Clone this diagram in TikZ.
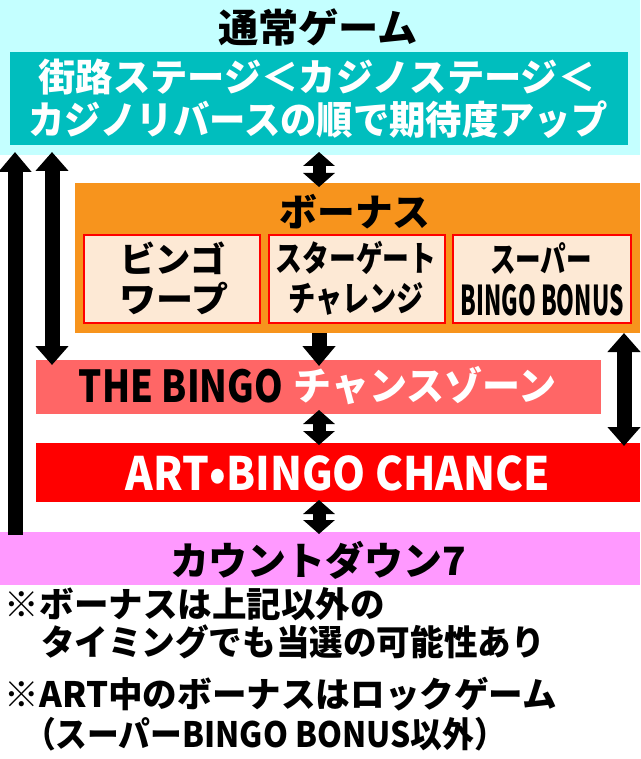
\documentclass[tikz,border=0pt]{standalone}
\usepackage{fontspec}
\usepackage{graphicx}
\setmainfont{Noto Sans CJK JP}[BoldFont={Noto Sans CJK JP Black}]
\usetikzlibrary{arrows.meta}
\definecolor{cyanbg}{RGB}{196,255,255}
\definecolor{tealbox}{RGB}{0,190,190}
\definecolor{orangebox}{RGB}{247,148,29}
\definecolor{peach}{RGB}{253,233,213}
\definecolor{salmon}{RGB}{255,102,102}
\definecolor{pinkbar}{RGB}{255,153,255}
\newcommand\fitw[2]{\resizebox{#1}{\height}{#2}}
\newcommand\fsz[1]{\fontsize{#1}{#1}\selectfont\bfseries}
\begin{document}
\begin{tikzpicture}[x=1pt,y=-1pt,
  every node/.style={inner sep=0pt,outer sep=0pt},
  panel/.style={anchor=north west,draw=none},
  subbox/.style={anchor=north west,draw=red,line width=1.5pt,fill=peach,minimum height=88pt},
  bigup/.style={line width=15pt,-{Triangle[width=32pt,length=20pt]}},
  bigboth/.style={line width=15pt,{Triangle[width=32pt,length=19pt]}-{Triangle[width=32pt,length=19pt]}},
  bigdown/.style={line width=15pt,-{Triangle[width=32pt,length=20pt]}},
  smallboth/.style={line width=13pt,{Triangle[width=31pt,length=14pt]}-{Triangle[width=31pt,length=14pt]}}
]
\useasboundingbox (0,0) rectangle (640,759);
\fill[white] (0,0) rectangle (640,759);
% panels
\node[panel,fill=cyanbg,minimum width=640pt,minimum height=155pt] (bg) at (0,0) {};
\node[panel,fill=tealbox,minimum width=618pt,minimum height=93pt] (teal) at (10,52) {};
\node[panel,fill=orangebox,minimum width=565pt,minimum height=150pt] (orange) at (75,183) {};
\node[subbox,minimum width=176pt] (b1) at (84,235) {};
\node[subbox,minimum width=176pt] (b2) at (269,235) {};
\node[subbox,minimum width=178pt] (b3) at (453,235) {};
\node[panel,fill=salmon,minimum width=565pt,minimum height=54pt] (bingo) at (36,360) {};
\node[panel,fill=red,minimum width=604pt,minimum height=59pt] (art) at (36,443) {};
\node[panel,fill=pinkbar,minimum width=640pt,minimum height=53pt] (count) at (0,532) {};
\coordinate (cx) at (319,0);
% texts
\node (title) at (318,27) {\fsz{39pt}\fitw{200pt}{通常ゲーム}};
\node[text=white] (t1) at (317,77) {\fsz{38pt}\fitw{557pt}{街路ステージ＜カジノステージ＜}};
\node[text=white] (t2) at (318,120) {\fsz{39pt}\fitw{579pt}{カジノリバースの順で期待度アップ}};
\node (bonus) at (355,212) {\fsz{38pt}\fitw{151pt}{ボーナス}};
\node (b1a) at (173,258) {\fsz{35pt}\fitw{106pt}{ビンゴ}};
\node (b1b) at (174,299) {\fsz{35pt}\fitw{109pt}{ワープ}};
\node (b2a) at (356,258) {\fsz{35pt}\fitw{161pt}{スターゲート}};
\node (b2b) at (356,299) {\fsz{35pt}\fitw{136pt}{チャレンジ}};
\node (b3a) at (541,258) {\fsz{35pt}\fitw{102pt}{スーパー}};
\node (b3b) at (542,300) {\fsz{41pt}\fitw{163pt}{BINGO BONUS}};
\node (bingoA) at (181,386) {\fsz{44pt}\fitw{204pt}{THE BINGO}};
\node[text=white] (bingoB) at (425,386) {\fsz{39pt}\fitw{263pt}{チャンスゾーン}};
\node[text=white] (artT) at (338,473) {\fsz{46pt}\fitw{424pt}{ART•BINGO CHANCE}};
\node (countT) at (318,560) {\fsz{39pt}\fitw{296pt}{カウントダウン7}};
\node[anchor=west] (n1) at (5,604) {\fsz{35pt}\fitw{380pt}{※ボーナスは上記以外の}};
\node[anchor=west] (n2) at (41,642) {\fsz{35pt}\fitw{504pt}{タイミングでも当選の可能性あり}};
\node[anchor=west] (n3) at (5,694) {\fsz{35pt}\fitw{552pt}{※ART中のボーナスはロックゲーム}};
\node[anchor=west] (n4) at (24,734) {\fsz{35pt}\fitw{482pt}{（スーパーBINGO BONUS以外）}};
% connectors
\draw[bigup] ([xshift=15pt,yshift=-3pt]count.north west) -- ([xshift=15pt,yshift=3pt]bg.south west);
\draw[bigboth] ([xshift=52pt,yshift=3pt]bg.south west) -- ([xshift=16pt,yshift=-5pt]bingo.north west);
\draw[smallboth] ([yshift=3pt]bg.south -| cx) -- ([yshift=-4pt]orange.north -| cx);
\draw[bigdown] (orange.south -| cx) -- ([yshift=-6pt]bingo.north -| cx);
\draw[bigboth] ([xshift=-16pt]orange.south east) -- ([xshift=-16pt,yshift=-3pt]art.north east);
\draw[smallboth] ([yshift=4pt]bingo.south -| cx) -- ([yshift=-2pt]art.north -| cx);
\draw[smallboth] ([yshift=2pt]art.south -| cx) -- ([yshift=-2pt]count.north -| cx);
\end{tikzpicture}
\end{document}
